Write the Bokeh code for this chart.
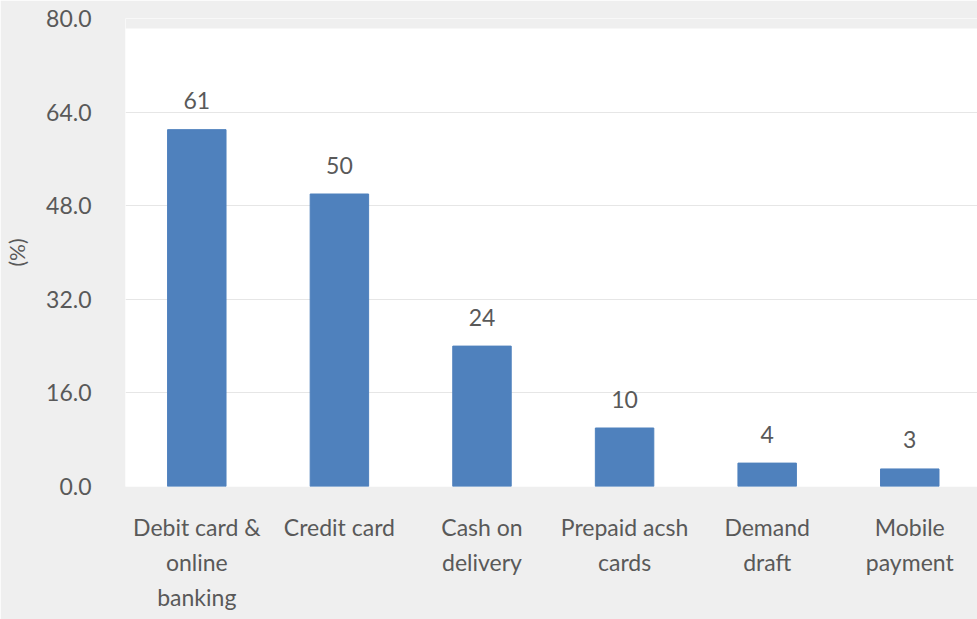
from bokeh.plotting import figure
from bokeh.models import FixedTicker, NumeralTickFormatter, Range1d, BoxAnnotation, ColumnDataSource
from bokeh.core.properties import value
from bokeh.embed import file_html
from bokeh.resources import INLINE

categories = ["Debit card &\nonline\nbanking", "Credit card", "Cash on\ndelivery",
              "Prepaid acsh\ncards", "Demand\ndraft", "Mobile\npayment"]
values = [61, 50, 24, 10, 4, 3]
y_ticks = [0, 16, 32, 48, 64, 80]

FONT = "Lato"
TXT = "#595959"
BG = "#efefef"

xs = list(range(len(categories)))
src = ColumnDataSource(dict(x=xs, top=values, label=[str(v) for v in values]))

p = figure(frame_width=852, frame_height=468, output_backend="svg", toolbar_location=None,
           x_range=Range1d(-0.5, 5.475), y_range=Range1d(0, 80),
           min_border_left=125, min_border_top=18, min_border_right=0, min_border_bottom=133)
p.background_fill_color = "white"
p.border_fill_color = BG
p.outline_line_color = None

p.vbar(x="x", top="top", width=0.41, source=src, color="#4f81bd")
p.text(x="x", y="top", text="label", source=src, text_align="center", text_baseline="middle",
       y_offset=-29, text_font=value(FONT), text_font_size="23px", text_color=TXT)

p.add_layout(BoxAnnotation(bottom=78.3, top=80, fill_color=BG, fill_alpha=1, line_alpha=0))

p.xgrid.grid_line_color = None
p.ygrid.ticker = FixedTicker(ticks=y_ticks)
p.ygrid.grid_line_color = "#e6e6e6"
p.ygrid.grid_line_width = 1

p.yaxis.ticker = FixedTicker(ticks=y_ticks)
p.yaxis.formatter = NumeralTickFormatter(format="0.0")
p.xaxis.ticker = FixedTicker(ticks=xs)
p.xaxis.major_label_overrides = {i: c for i, c in zip(xs, categories)}

for ax in (p.xaxis[0], p.yaxis[0]):
    ax.axis_line_color = None
    ax.major_tick_line_color = None
    ax.minor_tick_line_color = None
    ax.major_label_text_font = FONT
    ax.major_label_text_font_size = "23px"
    ax.major_label_text_color = TXT

p.xaxis.major_label_standoff = 20
p.xaxis.major_label_text_line_height = 1.25
p.yaxis.major_label_standoff = 28
p.yaxis.axis_label = "(%)"
p.yaxis.axis_label_text_font = FONT
p.yaxis.axis_label_text_font_size = "21px"
p.yaxis.axis_label_text_font_style = "normal"
p.yaxis.axis_label_text_color = TXT
p.yaxis.axis_label_standoff = 14

open("out.html", "w").write(file_html(p, INLINE))
